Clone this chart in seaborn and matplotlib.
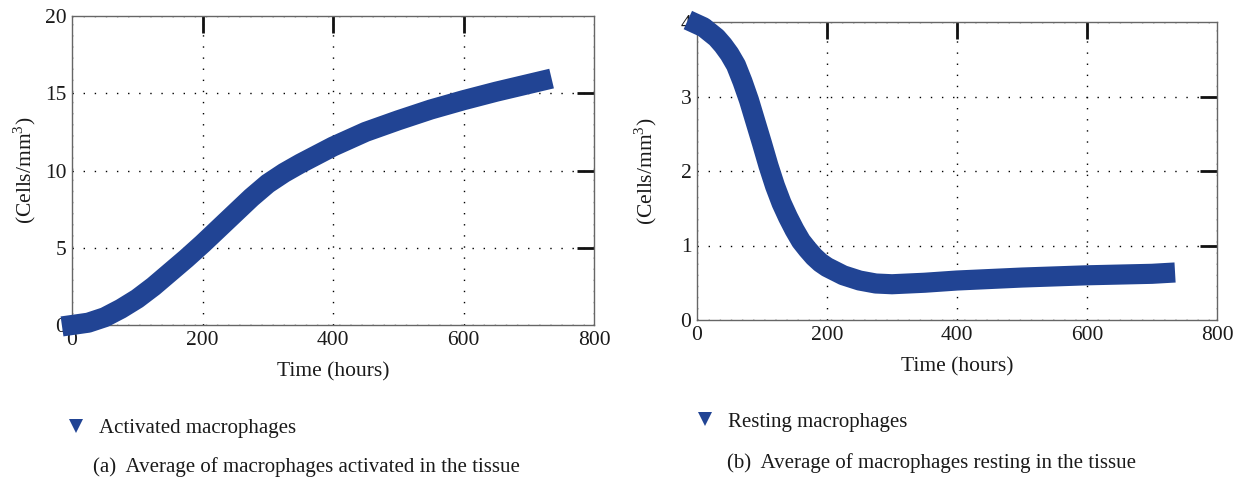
import matplotlib
matplotlib.use("Agg")
import matplotlib.pyplot as plt
from matplotlib.lines import Line2D
import seaborn as sns
import pandas as pd

# ---- data ----
time_a = [0, 25, 50, 75, 100, 125, 150, 175, 200, 225, 250, 275, 300, 325, 350, 375, 400,
          450, 500, 550, 600, 650, 700, 720]
activated = [0.0, 0.15, 0.5, 1.05, 1.7, 2.5, 3.4, 4.3, 5.25, 6.25, 7.25, 8.25, 9.15, 9.85, 10.45, 11.0, 11.55,
             12.5, 13.25, 13.95, 14.55, 15.1, 15.6, 15.8]

time_r = [0, 10, 20, 30, 40, 50, 60, 70, 80, 90, 100, 110, 120, 130, 140, 150, 160, 170, 180, 190,
          200, 225, 250, 275, 300, 350, 400, 500, 600, 700, 720]
resting = [3.97, 3.93, 3.86, 3.79, 3.69, 3.57, 3.42, 3.2, 2.95, 2.66, 2.37, 2.07, 1.8, 1.57, 1.38, 1.21, 1.06, 0.95, 0.85, 0.77,
           0.71, 0.6, 0.53, 0.49, 0.48, 0.5, 0.53, 0.57, 0.6, 0.62, 0.63]

x_ticks = [0, 200, 400, 600, 800]
y_ticks_a = [0, 5, 10, 15, 20]
y_ticks_r = [0, 1, 2, 3, 4]

legend_a = "Activated macrophages"
legend_r = "Resting macrophages"
caption_a = "(a)  Average of macrophages activated in the tissue"
caption_r = "(b)  Average of macrophages resting in the tissue"
xlabel = "Time (hours)"
ylabel = "(Cells/mm$^3$)"

BLUE = "#214494"
TXT = "#1a1a1a"

sns.set_theme(style="white")
plt.rcParams["font.family"] = ["Liberation Serif", "DejaVu Serif"]
plt.rcParams["mathtext.fontset"] = "custom"
plt.rcParams["mathtext.rm"] = "Liberation Serif"

fig = plt.figure(figsize=(12.42, 4.8), dpi=100)
ax1 = fig.add_axes([72 / 1242, 1 - 325 / 480, 522 / 1242, 309 / 480])
ax2 = fig.add_axes([697 / 1242, 1 - 320 / 480, 520 / 1242, 298 / 480])

df_a = pd.DataFrame({"t": time_a, "v": activated})
df_r = pd.DataFrame({"t": time_r, "v": resting})

for ax, df, yt, lx in ((ax1, df_a, y_ticks_a, -0.066), (ax2, df_r, y_ticks_r, -0.073)):
    sns.lineplot(data=df, x="t", y="v", ax=ax, color=BLUE, lw=14.5,
                 marker="v", markersize=10, markeredgewidth=0,
                 solid_capstyle="projecting", solid_joinstyle="round",
                 clip_on=False, zorder=5)
    ax.set_xlim(0, 800)
    ax.set_ylim(yt[0], yt[-1])
    ax.set_xticks(x_ticks)
    ax.set_yticks(yt)
    ax.grid(True, linestyle=(0, (1, 7)), color="black", lw=1.0)
    ax.tick_params(direction="in", length=12, width=2.0, color="#111111",
                   top=True, right=True, labelsize=15.5, pad=4,
                   labelcolor=TXT)
    for tl in (ax.xaxis.get_major_ticks()[0], ax.xaxis.get_major_ticks()[-1],
               ax.yaxis.get_major_ticks()[0], ax.yaxis.get_major_ticks()[-1]):
        tl.tick1line.set_visible(False)
        tl.tick2line.set_visible(False)
    for s in ax.spines.values():
        s.set_color("#666666")
        s.set_linewidth(1.0)
    ax.set_xlabel(xlabel, fontsize=15.5, labelpad=9, color=TXT)
    ax.set_ylabel(ylabel, fontsize=15.5, color=TXT)
    ax.yaxis.set_label_coords(lx, 0.5)

for x0, y0, lab in ((66 / 1242, 1 - 428 / 480, legend_a), (695 / 1242, 1 - 422 / 480, legend_r)):
    h = Line2D([], [], color=BLUE, marker="v", markersize=10, linestyle="none", markeredgewidth=0)
    fig.legend([h], [lab], loc="center left", bbox_to_anchor=(x0, y0),
               bbox_transform=fig.transFigure, frameon=False, handlelength=1.0,
               handletextpad=0.6, borderpad=0, borderaxespad=0, fontsize=15,
               labelcolor=TXT)

fig.text(93 / 1242, 1 - 467 / 480, caption_a, fontsize=15, va="center", ha="left", color=TXT)
fig.text(727 / 1242, 1 - 463 / 480, caption_r, fontsize=15, va="center", ha="left", color=TXT)

fig.savefig("out.png", dpi=100)
